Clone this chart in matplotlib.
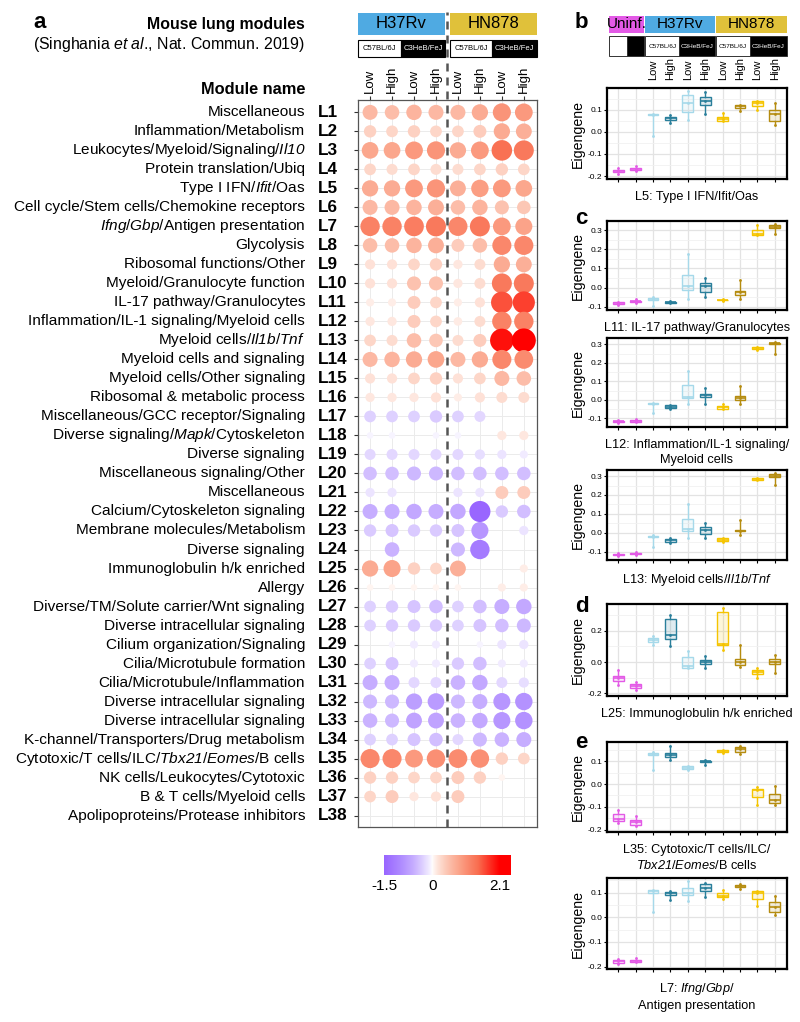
import numpy as np
import matplotlib.pyplot as plt
import matplotlib.transforms as mtransforms
from matplotlib.colors import LinearSegmentedColormap, to_rgb
from matplotlib.patches import Rectangle

plt.rcParams['font.family'] = ['Liberation Sans', 'DejaVu Sans']
plt.rcParams['mathtext.fontset'] = 'custom'
# every math segment here is an italic gene name, digits included
plt.rcParams['mathtext.rm'] = 'Liberation Sans:italic'
plt.rcParams['mathtext.it'] = 'Liberation Sans:italic'
plt.rcParams['mathtext.bf'] = 'Liberation Sans:bold'

# ---------------- data: panel a ----------------
module_codes = ['L%d' % i for i in range(1, 39)]
module_names = [
    'Miscellaneous', 'Inflammation/Metabolism', r'Leukocytes/Myeloid/Signaling/$\mathit{Il10}$',
    'Protein translation/Ubiq', r'Type I IFN/$\mathit{Ifit}$/Oas', 'Cell cycle/Stem cells/Chemokine receptors',
    r'$\mathit{Ifng}$/$\mathit{Gbp}$/Antigen presentation', 'Glycolysis', 'Ribosomal functions/Other',
    'Myeloid/Granulocyte function', 'IL-17 pathway/Granulocytes', 'Inflammation/IL-1 signaling/Myeloid cells',
    r'Myeloid cells/$\mathit{Il1b}$/$\mathit{Tnf}$', 'Myeloid cells and signaling', 'Myeloid cells/Other signaling',
    'Ribosomal & metabolic process', 'Miscellaneous/GCC receptor/Signaling',
    r'Diverse signaling/$\mathit{Mapk}$/Cytoskeleton', 'Diverse signaling', 'Miscellaneous signaling/Other',
    'Miscellaneous', 'Calcium/Cytoskeleton signaling', 'Membrane molecules/Metabolism', 'Diverse signaling',
    'Immunoglobulin h/k enriched', 'Allergy', 'Diverse/TM/Solute carrier/Wnt signaling',
    'Diverse intracellular signaling', 'Cilium organization/Signaling', 'Cilia/Microtubule formation',
    'Cilia/Microtubule/Inflammation', 'Diverse intracellular signaling', 'Diverse intracellular signaling',
    'K-channel/Transporters/Drug metabolism', r'Cytotoxic/T cells/ILC/$\mathit{Tbx21}$/$\mathit{Eomes}$/B cells',
    'NK cells/Leukocytes/Cytotoxic', 'B & T cells/Myeloid cells', 'Apolipoproteins/Protease inhibitors']

cond_labels = ['Low', 'High', 'Low', 'High', 'Low', 'High', 'Low', 'High']
nan = np.nan
# columns: H37Rv C57BL/6J Low, High, C3HeB/FeJ Low, High | HN878 same order
module_scores = np.array([
    [0.60, 0.55, 0.65, 0.60, 0.60, 0.75, 1.00, 0.95],
    [0.35, 0.30, 0.35, 0.30, 0.30, 0.40, 0.75, 0.70],
    [0.80, 0.80, 0.95, 1.00, 0.75, 0.95, 1.40, 1.30],
    [0.30, 0.25, 0.30, 0.25, 0.25, 0.30, 0.35, 0.30],
    [0.75, 0.75, 0.95, 1.00, 0.70, 0.90, 0.95, 0.80],
    [0.60, 0.60, 0.65, 0.70, 0.55, 0.65, 0.50, 0.45],
    [1.20, 1.20, 1.25, 1.30, 1.15, 1.30, 0.95, 0.85],
    [0.55, 0.55, 0.65, 0.70, 0.40, 0.55, 1.15, 1.15],
    [0.20, 0.20, 0.30, 0.35, 0.15, 0.25, 0.75, 0.70],
    [0.20, 0.20, 0.50, 0.50, 0.15, 0.25, 1.30, 1.30],
    [0.10, 0.10, 0.40, 0.30, 0.10, 0.20, 1.60, 1.70],
    [0.15, 0.15, 0.40, 0.30, 0.12, 0.25, 1.20, 1.20],
    [0.30, 0.25, 0.55, 0.45, 0.25, 0.40, 2.00, 2.10],
    [0.60, 0.65, 0.75, 0.80, 0.60, 0.75, 1.15, 1.10],
    [0.20, 0.20, 0.30, 0.35, 0.20, 0.30, 0.60, 0.55],
    [0.15, 0.15, 0.15, 0.20, 0.10, 0.20, 0.25, 0.25],
    [-0.30, -0.30, -0.30, -0.35, -0.30, -0.25, nan, nan],
    [-0.05, -0.05, nan, -0.05, -0.05, nan, 0.15, 0.15],
    [-0.25, -0.25, -0.25, -0.25, -0.25, -0.20, -0.15, -0.10],
    [-0.45, -0.45, -0.50, -0.50, -0.45, -0.45, -0.45, -0.45],
    [-0.15, -0.15, nan, nan, -0.15, -0.15, 0.40, 0.40],
    [-0.60, -0.60, -0.65, -0.60, -0.65, -1.50, -0.35, -0.45],
    [-0.35, -0.40, -0.35, -0.35, -0.40, -0.85, nan, -0.15],
    [nan, -0.55, nan, nan, -0.50, -1.20, nan, nan],
    [0.75, 0.85, 0.35, 0.30, 0.70, nan, nan, 0.10],
    [0.05, 0.05, 0.05, 0.05, 0.05, nan, 0.10, 0.10],
    [-0.30, -0.35, -0.40, -0.45, -0.30, -0.45, -0.60, -0.65],
    [-0.30, -0.35, -0.35, -0.35, -0.30, -0.40, -0.45, -0.50],
    [nan, -0.05, -0.10, -0.10, nan, -0.05, -0.15, -0.15],
    [-0.30, -0.40, -0.10, -0.10, -0.35, -0.45, -0.10, -0.10],
    [-0.60, -0.60, -0.25, -0.25, -0.55, -0.65, -0.25, -0.20],
    [-0.50, -0.50, -0.75, -0.80, -0.50, -0.60, -0.85, -0.90],
    [-0.55, -0.50, -0.70, -0.70, -0.55, -0.65, -0.85, -0.90],
    [-0.30, -0.30, -0.40, -0.45, -0.25, -0.50, -0.55, -0.60],
    [1.15, 1.15, 0.95, 1.05, 1.10, 1.05, 0.35, 0.30],
    [0.35, 0.35, 0.30, 0.30, 0.40, 0.35, 0.05, nan],
    [0.30, 0.40, 0.15, 0.20, 0.40, nan, nan, nan],
    [nan, nan, nan, nan, nan, nan, nan, nan],
])
score_min, score_max = -1.5, 2.1

# ---------------- data: panels b-e (lo, q1, median, q3, hi) ----------------
l5_stats = [(-0.19, -0.182, -0.178, -0.172, -0.165), (-0.177, -0.173, -0.169, -0.165, -0.153),
            (-0.02, 0.076, 0.078, 0.080, 0.082), (0.038, 0.055, 0.062, 0.068, 0.075),
            (0.055, 0.090, 0.130, 0.165, 0.185), (0.080, 0.120, 0.140, 0.158, 0.178),
            (0.047, 0.050, 0.058, 0.068, 0.085), (0.095, 0.108, 0.115, 0.122, 0.123),
            (0.100, 0.118, 0.130, 0.140, 0.140), (0.030, 0.050, 0.080, 0.098, 0.128)]
l11_stats = [(-0.09, -0.087, -0.082, -0.077, -0.075), (-0.078, -0.076, -0.072, -0.069, -0.06),
             (-0.095, -0.067, -0.060, -0.053, -0.05), (-0.08, -0.079, -0.077, -0.074, -0.07),
             (-0.06, -0.015, 0.008, 0.065, 0.175), (-0.05, -0.022, 0.010, 0.022, 0.052),
             (-0.068, -0.067, -0.065, -0.063, -0.058), (-0.058, -0.040, -0.025, -0.018, 0.042),
             (0.275, 0.277, 0.280, 0.303, 0.325), (0.278, 0.310, 0.318, 0.327, 0.332)]
l12_stats = [(-0.123, -0.118, -0.115, -0.112, -0.108), (-0.122, -0.118, -0.114, -0.110, -0.105),
             (-0.07, -0.022, -0.020, -0.018, -0.017), (-0.048, -0.045, -0.037, -0.030, -0.028),
             (-0.025, 0.010, 0.018, 0.080, 0.158), (-0.025, 0.018, 0.027, 0.033, 0.065),
             (-0.05, -0.048, -0.040, -0.032, -0.025), (-0.02, 0.000, 0.012, 0.022, 0.075),
             (0.270, 0.275, 0.280, 0.285, 0.288), (0.250, 0.302, 0.307, 0.310, 0.312)]
l13_stats = [(-0.123, -0.120, -0.115, -0.110, -0.105), (-0.115, -0.113, -0.110, -0.106, -0.100),
             (-0.075, -0.024, -0.020, -0.016, -0.014), (-0.055, -0.047, -0.040, -0.033, -0.025),
             (-0.025, 0.010, 0.020, 0.072, 0.152), (-0.03, -0.005, 0.015, 0.030, 0.050),
             (-0.047, -0.045, -0.038, -0.028, -0.026), (-0.012, 0.010, 0.012, 0.016, 0.068),
             (0.278, 0.281, 0.285, 0.290, 0.292), (0.255, 0.297, 0.302, 0.313, 0.315)]
l25_stats = [(-0.145, -0.120, -0.100, -0.087, -0.05), (-0.18, -0.165, -0.153, -0.140, -0.125),
             (0.112, 0.130, 0.140, 0.155, 0.165), (0.102, 0.148, 0.175, 0.275, 0.303),
             (-0.04, -0.040, -0.025, 0.035, 0.068), (-0.038, -0.010, 0.003, 0.015, 0.040),
             (0.078, 0.110, 0.115, 0.320, 0.345), (-0.03, -0.020, 0.000, 0.020, 0.110),
             (-0.10, -0.078, -0.065, -0.052, -0.04), (-0.068, -0.015, 0.000, 0.020, 0.045)]
l35_stats = [(-0.172, -0.160, -0.153, -0.130, -0.115), (-0.185, -0.180, -0.168, -0.158, -0.14),
             (0.060, 0.125, 0.132, 0.138, 0.140), (0.105, 0.120, 0.128, 0.135, 0.165),
             (0.060, 0.065, 0.070, 0.078, 0.080), (0.085, 0.097, 0.100, 0.102, 0.105),
             (0.137, 0.139, 0.143, 0.147, 0.148), (0.132, 0.140, 0.152, 0.160, 0.165),
             (-0.09, -0.058, -0.028, -0.020, -0.015), (-0.09, -0.085, -0.068, -0.042, -0.01)]
l7_stats = [(-0.19, -0.185, -0.178, -0.172, -0.17), (-0.18, -0.180, -0.176, -0.172, -0.165),
            (0.020, 0.100, 0.105, 0.110, 0.112), (0.070, 0.090, 0.097, 0.103, 0.107),
            (0.065, 0.090, 0.100, 0.120, 0.148), (0.080, 0.105, 0.118, 0.133, 0.140),
            (0.072, 0.080, 0.088, 0.098, 0.110), (0.115, 0.123, 0.127, 0.130, 0.133),
            (0.045, 0.075, 0.100, 0.105, 0.108), (0.008, 0.020, 0.040, 0.062, 0.088)]

box_colors = ['#E35AE6', '#E35AE6', '#A6D9EA', '#2A7F9B', '#A6D9EA', '#2A7F9B',
              '#F5C400', '#B58C10', '#F5C400', '#B58C10']

W, H = 800, 1022


def fx(px):
    return px / W


def fy(py):
    return 1 - py / H


pos_cmap = LinearSegmentedColormap.from_list(
    'pos', [(0, '#ffffff'), (0.25, '#fdd3c4'), (0.5, '#fba48a'), (0.75, '#f96e50'), (1, '#ff0000')])
neg_cmap = LinearSegmentedColormap.from_list(
    'neg', [(0, '#ffffff'), (0.25, '#e4d9ff'), (0.5, '#c6adff'), (0.75, '#ad88ff'), (1, '#9966ff')])


def dot_color(v):
    if v >= 0:
        return pos_cmap(min(v / score_max, 1) ** 0.75)
    return neg_cmap(min(-v / -score_min, 1) ** 0.75)


def dot_size(v):
    d_px = 2 + 22 * (abs(v) / score_max) ** 0.42
    return (d_px * 0.72) ** 2


fig = plt.figure(figsize=(8, 10.22), dpi=100)

# ---------------- panel a ----------------
ax = fig.add_axes([fx(358), fy(827), (537 - 358) / W, (827 - 100) / H])
nrow, ncol = module_scores.shape
for i in range(nrow):
    for j in range(ncol):
        v = module_scores[i, j]
        if np.isnan(v):
            continue
        ax.scatter(j + 1, i + 1, s=dot_size(v), color=dot_color(v),
                   edgecolors='none', zorder=3)
ax.set_xlim(0.45, 8.6)
ax.set_ylim(38.6, 0.35)
ax.set_xticks(range(1, 9))
ax.set_xticklabels(cond_labels, rotation=90, fontsize=9.5)
ax.xaxis.tick_top()
ax.set_yticks(range(1, 39))
ax.set_yticklabels([])
ax.tick_params(length=3, color='#333333', width=0.8, pad=2)
ax.grid(color='#ebebeb', lw=0.7)
ax.set_axisbelow(True)
for sp in ax.spines.values():
    sp.set_color('#555555')
    sp.set_linewidth(0.9)

ax.plot([4.5, 4.5], [38.6, -4.3], ls=(0, (3.2, 2.4)), color='#555555',
        lw=1.8, clip_on=False, zorder=4)

tr = mtransforms.blended_transform_factory(ax.transData, fig.transFigure)
ax.add_patch(Rectangle((0.45, fy(35)), 3.95, 22 / H, transform=tr, fc='#4FAAE2',
                       ec='none', clip_on=False))
ax.add_patch(Rectangle((4.62, fy(35)), 3.98, 22 / H, transform=tr, fc='#E0C13A',
                       ec='none', clip_on=False))
ax.text(2.42, fy(24), 'H37Rv', transform=tr, ha='center', va='center', fontsize=12)
ax.text(6.61, fy(24), 'HN878', transform=tr, ha='center', va='center', fontsize=12)
for x0, x1 in [(0.47, 2.42), (4.64, 6.55)]:
    ax.add_patch(Rectangle((x0, fy(57)), x1 - x0, 17 / H, transform=tr, fc='white',
                           ec='black', lw=0.8, clip_on=False))
    ax.text((x0 + x1) / 2, fy(48.5), 'C57BL/6J', transform=tr, ha='center',
            va='center', fontsize=5.5)
for x0, x1 in [(2.42, 4.4), (6.55, 8.6)]:
    ax.add_patch(Rectangle((x0, fy(57)), x1 - x0, 17 / H, transform=tr, fc='black',
                           ec='black', lw=0.8, clip_on=False))
    ax.text((x0 + x1) / 2, fy(48.5), 'C3HeB/FeJ', transform=tr, ha='center',
            va='center', fontsize=5.5, color='white')

ty = mtransforms.blended_transform_factory(fig.transFigure, ax.transData)
for i in range(nrow):
    ax.text(fx(305), i + 1, module_names[i], transform=ty, ha='right', va='center',
            fontsize=11.1)
    ax.text(fx(318), i + 1, module_codes[i], transform=ty, ha='left', va='center',
            fontsize=12.3, fontweight='bold')

fig.text(fx(33), fy(22), 'a', fontsize=16, fontweight='bold', va='center')
fig.text(fx(305), fy(24), 'Mouse lung modules', fontsize=11.4, fontweight='bold',
         ha='right', va='center')
fig.text(fx(305), fy(45), r'(Singhania $\mathit{et\ al}$., Nat. Commun. 2019)',
         fontsize=11.4, ha='right', va='center')
fig.text(fx(305), fy(90), 'Module name', fontsize=11.8, fontweight='bold',
         ha='right', va='center')

# colour bar
cax = fig.add_axes([fx(384), fy(875), (511 - 384) / W, 20 / H])
grad = np.linspace(score_min, 2.45, 300)
cax.imshow(np.array([[dot_color(g)[:3] for g in grad]]), aspect='auto',
           extent=[score_min, 2.45, 0, 1])
cax.set_xlim(score_min, 2.45)
cax.set_xticks([score_min, 0, score_max])
cax.set_xticklabels(['-1.5', '0', '2.1'])
cax.set_yticks([])
cax.tick_params(length=0, labelsize=11, pad=3)
for sp in cax.spines.values():
    sp.set_visible(False)


# ---------------- panels b-e ----------------
def box_panel(top, bottom, stats, title, yticks):
    bx = fig.add_axes([fx(607), fy(bottom), (787 - 607) / W, (bottom - top) / H])
    for k, (lo, q1, med, q3, hi) in enumerate(stats):
        c = box_colors[k]
        bxp = bx.bxp([{'med': med, 'q1': q1, 'q3': q3, 'whislo': lo, 'whishi': hi,
                       'fliers': []}], positions=[k + 1], widths=0.62,
                     patch_artist=True, showcaps=False, showfliers=False)
        for b in bxp['boxes']:
            b.set_facecolor((*to_rgb(c), 0.15))
            b.set_edgecolor(c)
            b.set_linewidth(1.0)
        for w in bxp['whiskers']:
            w.set_color(c)
            w.set_linewidth(1.0)
        for m in bxp['medians']:
            m.set_color(c)
            m.set_linewidth(1.2)
        bx.plot([k + 1] * 3, [lo, med, hi], 'o', color=c, ms=2, mec='none', zorder=4)
    bx.set_xlim(0.35, 10.7)
    bx.set_xticks(range(1, 11))
    bx.set_xticklabels([])
    bx.set_yticks(yticks)
    bx.set_yticklabels(['%.1f' % t for t in yticks])
    step = yticks[1] - yticks[0]
    bx.set_yticks([t + step / 2 for t in yticks[:-1]] + [yticks[0] - step / 2, yticks[-1] + step / 2], minor=True)
    bx.tick_params(axis='both', which='major', length=2, labelsize=6, pad=1.5)
    bx.tick_params(axis='y', which='minor', length=0)
    bx.grid(True, which='major', color='#e3e3e3', lw=0.9)
    bx.grid(True, which='minor', axis='y', color='#f1f1f1', lw=0.6)
    bx.set_axisbelow(True)
    for sp in bx.spines.values():
        sp.set_linewidth(1.6)
        sp.set_color('black')
    bx.set_ylabel('Eigengene', fontsize=10.2, labelpad=2)
    bx.set_xlabel(title, fontsize=9.2, labelpad=5, linespacing=1.3)
    return bx


bb = box_panel(88, 179, l5_stats, 'L5: Type I IFN/Ifit/Oas', [-0.2, -0.1, 0.0, 0.1])
bb.set_ylim(-0.213, 0.198)
b1 = box_panel(221, 310, l11_stats, 'L11: IL-17 pathway/Granulocytes', [-0.1, 0.0, 0.1, 0.2, 0.3])
b1.set_ylim(-0.117, 0.348)
b2 = box_panel(338, 427, l12_stats, 'L12: Inflammation/IL-1 signaling/\nMyeloid cells', [-0.1, 0.0, 0.1, 0.2, 0.3])
b2.set_ylim(-0.147, 0.335)
b3 = box_panel(470, 560, l13_stats, r'L13: Myeloid cells/$\mathit{Il1b}$/$\mathit{Tnf}$', [-0.1, 0.0, 0.1, 0.2, 0.3])
b3.set_ylim(-0.144, 0.332)
bd = box_panel(604, 696, l25_stats, 'L25: Immunoglobulin h/k enriched', [-0.2, 0.0, 0.2])
bd.set_ylim(-0.218, 0.373)
be1 = box_panel(742, 832, l35_stats, 'L35: Cytotoxic/T cells/ILC/\n' + r'$\mathit{Tbx21}$/$\mathit{Eomes}$/B cells', [-0.2, -0.1, 0.0, 0.1])
be1.set_ylim(-0.21, 0.184)
be2 = box_panel(878, 969, l7_stats, r'L7: $\mathit{Ifng}$/$\mathit{Gbp}$/' + '\nAntigen presentation', [-0.2, -0.1, 0.0, 0.1])
be2.set_ylim(-0.21, 0.159)

for lab, yy in [('b', 22), ('c', 219), ('d', 606), ('e', 743)]:
    fig.text(fx(575), fy(yy), lab, fontsize=16, fontweight='bold', va='center')

# header of panel b
tb = mtransforms.blended_transform_factory(bb.transData, fig.transFigure)
for x0, x1, c, t in [(0.45, 2.5, '#E35AE6', 'Uninf.'), (2.55, 6.55, '#4FAAE2', 'H37Rv'),
                     (6.6, 10.7, '#E0C13A', 'HN878')]:
    bb.add_patch(Rectangle((x0, fy(33)), x1 - x0, 17 / H, transform=tb, fc=c,
                           ec='none', clip_on=False))
    bb.text((x0 + x1) / 2, fy(24.5), t, transform=tb, ha='center', va='center',
            fontsize=11)
for x0, x1, fc, t in [(0.45, 1.5, 'white', ''), (1.5, 2.5, 'black', ''),
                      (2.55, 4.5, 'white', 'C57BL/6J'), (4.5, 6.55, 'black', 'C3HeB/FeJ'),
                      (6.6, 8.55, 'white', 'C57BL/6J'), (8.55, 10.7, 'black', 'C3HeB/FeJ')]:
    bb.add_patch(Rectangle((x0, fy(56)), x1 - x0, 20 / H, transform=tb, fc=fc,
                           ec='#333333', lw=0.7, clip_on=False))
    bb.text((x0 + x1) / 2, fy(46), t, transform=tb, ha='center', va='center',
            fontsize=4.6, color='black' if fc == 'white' else 'white')
for k in range(8):
    bb.text(k + 3, fy(80), cond_labels[k], transform=tb, rotation=90, ha='center',
            va='bottom', fontsize=8)

fig.savefig('out.png', dpi=100)
